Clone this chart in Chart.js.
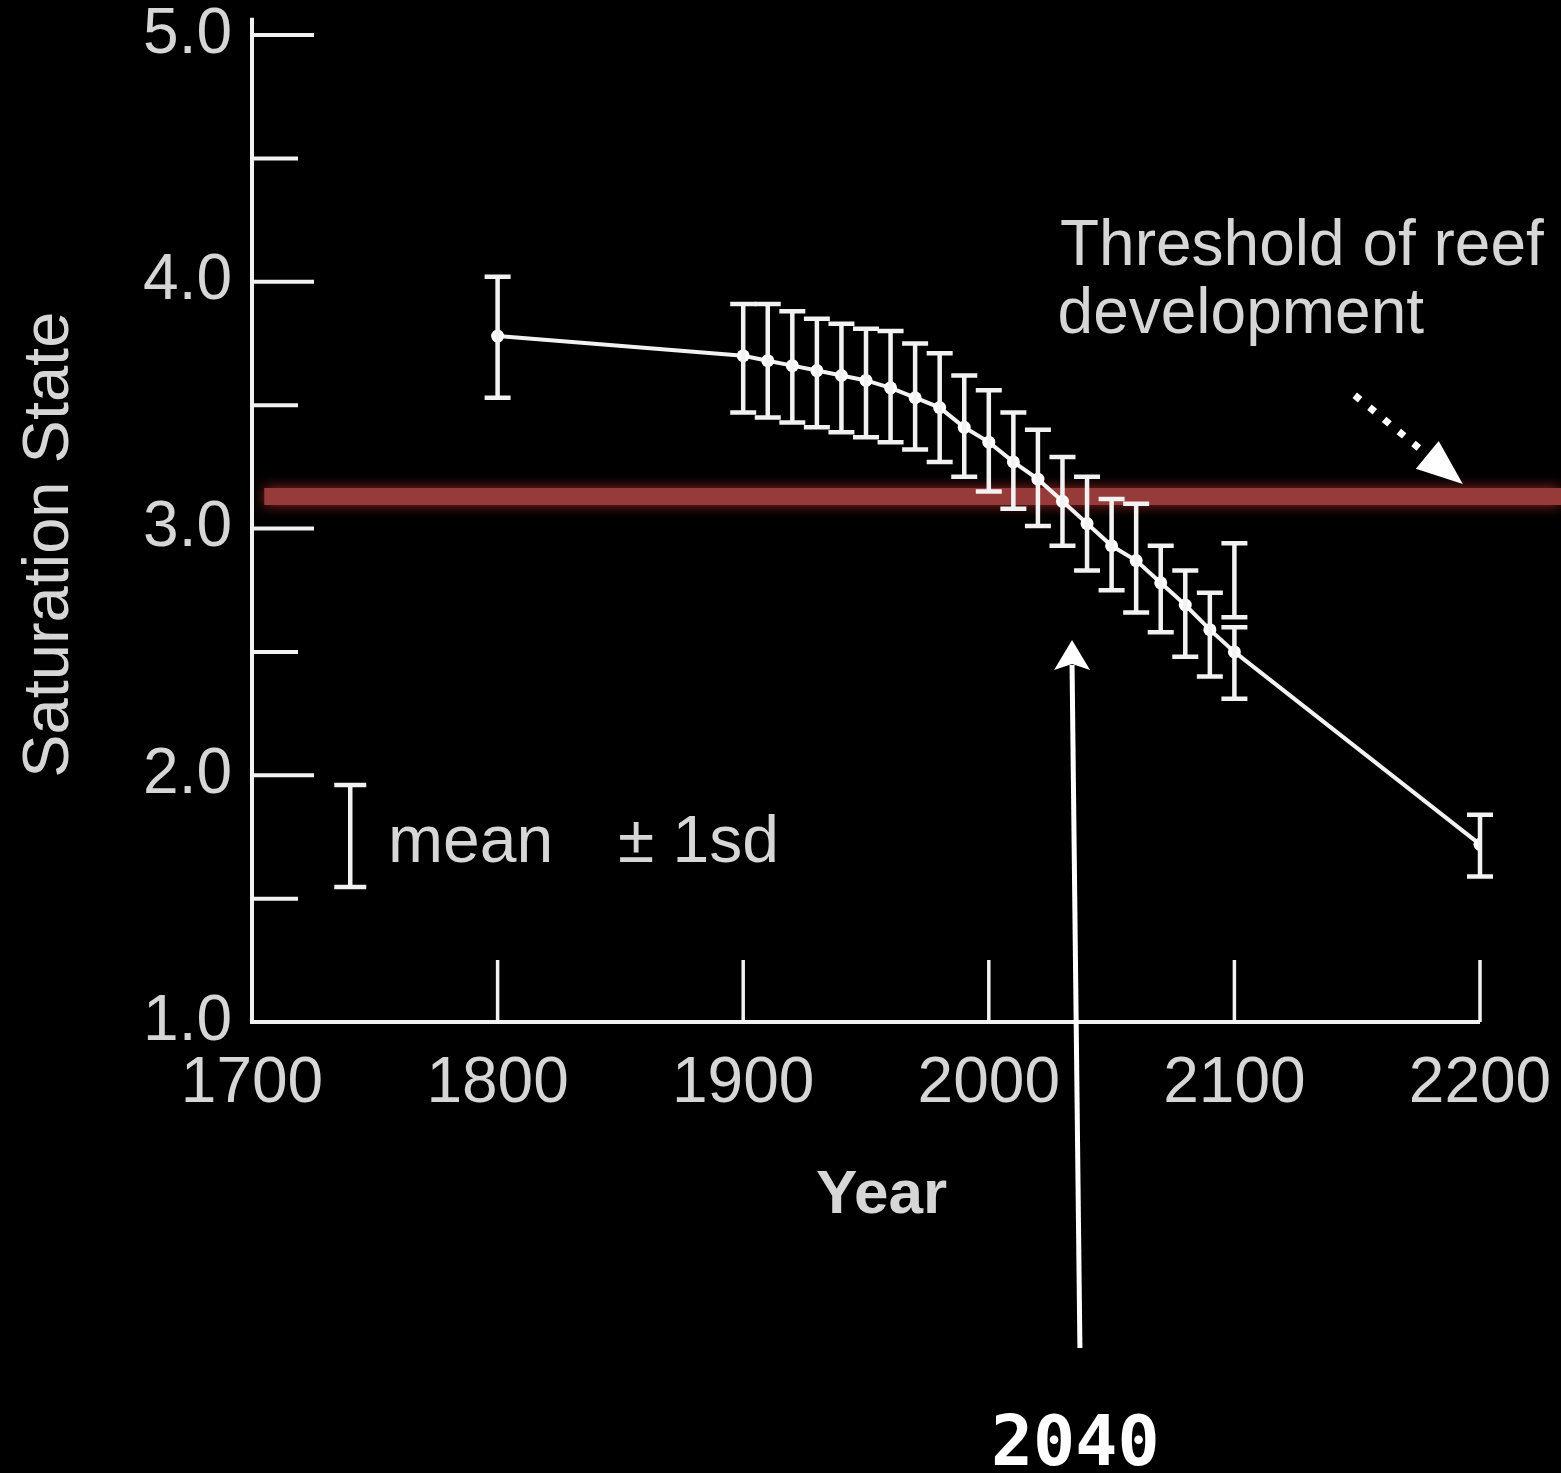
<!DOCTYPE html>
<html>
<head>
<meta charset="utf-8">
<script src="https://cdn.jsdelivr.net/npm/chart.js@4.4.1/dist/chart.umd.min.js"></script>
<style>
  html, body { margin: 0; padding: 0; background: #000; }
</style>
</head>
<body>
<canvas id="chart" width="1561" height="1473"></canvas>
<script>
// saturation state, mean +- 1sd
const years = [1800, 1900, 1910, 1920, 1930, 1940, 1950, 1960, 1970, 1980, 1990,
               2000, 2010, 2020, 2030, 2040, 2050, 2060, 2070, 2080, 2090, 2100, 2200];
const means = [3.78, 3.70, 3.68, 3.66, 3.64, 3.62, 3.60, 3.57, 3.53, 3.49, 3.41,
               3.35, 3.27, 3.20, 3.11, 3.02, 2.93, 2.87, 2.78, 2.69, 2.59, 2.50, 1.72];
const lows  = [3.53, 3.47, 3.45, 3.43, 3.41, 3.39, 3.37, 3.35, 3.32, 3.27, 3.21,
               3.15, 3.08, 3.01, 2.93, 2.83, 2.75, 2.66, 2.58, 2.48, 2.40, 2.31, 1.59];
const highs = [4.02, 3.91, 3.91, 3.88, 3.85, 3.83, 3.81, 3.80, 3.75, 3.71, 3.62,
               3.56, 3.47, 3.40, 3.29, 3.21, 3.12, 3.10, 2.93, 2.83, 2.74, 2.60, 1.84];
// second bar stacked on the 2100 one
const extraYears = [2100];
const extraLows = [2.64];
const extraHighs = [2.94];

const xTicks = [1700, 1800, 1900, 2000, 2100, 2200];
const yTicks = [1, 1.5, 2, 2.5, 3, 3.5, 4, 4.5, 5];
const threshold = 3.13;

const white = '#f2f2f2';
const textColor = '#d6d6d6';
const font = 'Liberation Sans, Arial, sans-serif';

function errorBar(ctx, x, y, year, lo, hi, half) {
  const px = x.getPixelForValue(year);
  const top = y.getPixelForValue(hi);
  const bot = y.getPixelForValue(lo);
  ctx.beginPath();
  ctx.moveTo(px, top); ctx.lineTo(px, bot);
  ctx.moveTo(px - half, top); ctx.lineTo(px + half, top);
  ctx.moveTo(px - half, bot); ctx.lineTo(px + half, bot);
  ctx.stroke();
}

const overlay = {
  id: 'overlay',
  beforeDraw(chart) {
    const ctx = chart.ctx;
    ctx.save();
    ctx.fillStyle = '#000';
    ctx.fillRect(0, 0, chart.width, chart.height);
    ctx.restore();
  },
  beforeDatasetsDraw(chart) {
    const { ctx, scales: { x, y } } = chart;
    ctx.save();
    // threshold band
    const ty = y.getPixelForValue(threshold);
    ctx.strokeStyle = 'rgb(150,58,58)';
    ctx.shadowColor = 'rgba(150,40,40,1)';
    ctx.shadowBlur = 14;
    ctx.lineWidth = 17;
    ctx.beginPath();
    ctx.moveTo(x.getPixelForValue(1705), ty);
    ctx.lineTo(chart.width, ty);
    ctx.stroke();
    ctx.shadowBlur = 0;

    // axes with inward ticks
    ctx.strokeStyle = white;
    ctx.lineWidth = 4;
    ctx.beginPath();
    ctx.moveTo(x.left, y.getPixelForValue(5.07));
    ctx.lineTo(x.left, y.bottom);
    ctx.lineTo(x.right, y.bottom);
    ctx.stroke();
    y.ticks.forEach(t => {
      const py = y.getPixelForValue(t.value);
      const len = t.value % 1 === 0 ? 62 : 46;
      ctx.beginPath();
      ctx.moveTo(x.left, py); ctx.lineTo(x.left + len, py);
      ctx.stroke();
    });
    ctx.lineWidth = 3.5;
    x.ticks.forEach(t => {
      if (t.value === x.min) return;
      const px = x.getPixelForValue(t.value);
      ctx.beginPath();
      ctx.moveTo(px, y.bottom); ctx.lineTo(px, y.bottom - 62);
      ctx.stroke();
    });
    ctx.restore();
  },
  afterDatasetsDraw(chart) {
    const { ctx, scales: { x, y } } = chart;
    ctx.save();
    ctx.strokeStyle = white;
    ctx.fillStyle = white;
    ctx.lineWidth = 4.5;
    years.forEach((yr, i) => errorBar(ctx, x, y, yr, lows[i], highs[i], 13));
    extraYears.forEach((yr, i) => errorBar(ctx, x, y, yr, extraLows[i], extraHighs[i], 13));

    // legend glyph
    errorBar(ctx, x, y, 1740, 1.547, 1.96, 16);
    ctx.fillStyle = textColor;
    ctx.font = '66px ' + font;
    ctx.textBaseline = 'alphabetic';
    ctx.textAlign = 'left';
    ctx.fillText('mean', x.getPixelForValue(1755.4), y.getPixelForValue(1.648));
    ctx.fillText('\u00b1 1sd', x.getPixelForValue(1849), y.getPixelForValue(1.648));

    // threshold label
    ctx.font = '64px ' + font;
    ctx.fillText('Threshold of reef', x.getPixelForValue(2029), y.getPixelForValue(4.068));
    ctx.fillText('development', x.getPixelForValue(2028), y.getPixelForValue(3.792));

    // dotted arrow to threshold line
    const sx = x.getPixelForValue(2149), sy = y.getPixelForValue(3.54);
    const ex = x.getPixelForValue(2193), ey = y.getPixelForValue(3.18);
    const ang = Math.atan2(ey - sy, ex - sx);
    const headLen = 46;
    const bx = ex - Math.cos(ang) * headLen, by = ey - Math.sin(ang) * headLen;
    ctx.strokeStyle = '#fff';
    ctx.fillStyle = '#fff';
    ctx.lineWidth = 7;
    ctx.setLineDash([7, 12]);
    ctx.beginPath();
    ctx.moveTo(sx, sy); ctx.lineTo(bx, by);
    ctx.stroke();
    ctx.setLineDash([]);
    ctx.beginPath();
    ctx.moveTo(ex, ey);
    ctx.lineTo(bx + Math.sin(ang) * 18, by - Math.cos(ang) * 18);
    ctx.lineTo(bx - Math.sin(ang) * 18, by + Math.cos(ang) * 18);
    ctx.closePath();
    ctx.fill();

    // 2040 arrow
    const ax0 = x.getPixelForValue(2037.1), ay0 = y.getPixelForValue(-0.321);
    const ax1 = x.getPixelForValue(2033.9), ay1 = y.getPixelForValue(2.548);
    ctx.lineWidth = 5;
    ctx.beginPath();
    ctx.moveTo(ax0, ay0); ctx.lineTo(ax1, ay1 + 25);
    ctx.stroke();
    ctx.beginPath();
    ctx.moveTo(ax1, ay1);
    ctx.lineTo(ax1 - 18, ay1 + 30);
    ctx.lineTo(ax1, ay1 + 24);
    ctx.lineTo(ax1 + 18, ay1 + 30);
    ctx.closePath();
    ctx.fill();

    ctx.font = 'bold 70px "DejaVu Sans Mono", monospace';
    ctx.textAlign = 'center';
    ctx.fillText('2040', x.getPixelForValue(2035.2), y.getPixelForValue(-0.797));
    ctx.restore();
  }
};

new Chart(document.getElementById('chart'), {
  type: 'line',
  data: {
    datasets: [{
      data: years.map((yr, i) => ({ x: yr, y: means[i] })),
      borderColor: white,
      borderWidth: 4,
      pointRadius: 6.5,
      pointBackgroundColor: '#fff',
      pointBorderWidth: 0,
      tension: 0
    }]
  },
  options: {
    responsive: false,
    animation: false,
    devicePixelRatio: 1,
    layout: { padding: { top: 35, right: 81, bottom: 240, left: 0 } },
    plugins: { legend: { display: false }, tooltip: { enabled: false } },
    scales: {
      x: {
        type: 'linear',
        min: 1700,
        max: 2200,
        afterBuildTicks: s => { s.ticks = xTicks.map(v => ({ value: v })); },
        afterFit: s => { s.height = 211; s.paddingLeft = 0; s.paddingRight = 0; },
        grid: { display: false, drawTicks: false },
        border: { display: false },
        ticks: {
          color: textColor,
          font: { family: font, size: 64 },
          padding: 24,
          maxRotation: 0,
          callback: v => String(v)
        },
        title: {
          display: true,
          text: '\u2002Year',
          color: textColor,
          font: { family: font, size: 62, weight: 'bold' },
          padding: { top: 0, bottom: 0 }
        }
      },
      y: {
        min: 1,
        max: 5,
        afterBuildTicks: s => { s.ticks = yTicks.map(v => ({ value: v })); },
        afterFit: s => { s.width = 252; s.paddingTop = 0; s.paddingBottom = 0; },
        grid: { display: false, drawTicks: false },
        border: { display: false },
        ticks: {
          color: textColor,
          font: { family: font, size: 64 },
          padding: 20,
          callback: v => (v % 1 === 0 ? v.toFixed(1) : '')
        },
        title: {
          display: true,
          text: 'Saturation State\u2002',
          color: textColor,
          font: { family: font, size: 65 },
          padding: { top: 11, bottom: 0 }
        }
      }
    }
  },
  plugins: [overlay]
});
</script>
</body>
</html>
